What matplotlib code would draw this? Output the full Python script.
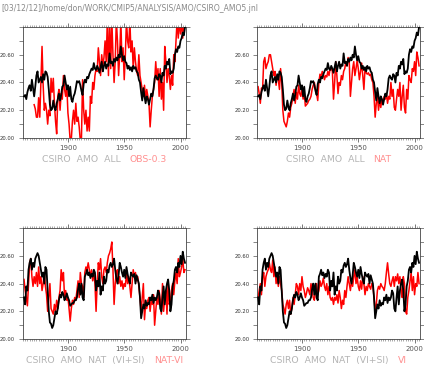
import matplotlib
matplotlib.use("Agg")
import matplotlib.pyplot as plt
import numpy as np
from matplotlib.ticker import MultipleLocator, FuncFormatter

years = np.arange(1861, 2005)

# CSIRO AMO ALL (black, top panels)
amo_all = [20.30, 20.31, 20.28, 20.33, 20.36, 20.38, 20.34, 20.42, 20.36, 20.30,
           20.37, 20.45, 20.48, 20.40, 20.42, 20.44, 20.40, 20.46, 20.42, 20.48,
           20.47, 20.44, 20.35, 20.24, 20.20, 20.21, 20.27, 20.22, 20.20, 20.25,
           20.28, 20.32, 20.27, 20.31, 20.37, 20.38, 20.45, 20.40, 20.35, 20.38,
           20.30, 20.37, 20.28, 20.26, 20.30, 20.32, 20.36, 20.41, 20.40, 20.41,
           20.38, 20.34, 20.31, 20.39, 20.42, 20.40, 20.44, 20.43, 20.46, 20.48,
           20.50, 20.49, 20.54, 20.50, 20.49, 20.52, 20.50, 20.47, 20.51, 20.55,
           20.48, 20.52, 20.55, 20.50, 20.53, 20.52, 20.61, 20.54, 20.55, 20.52,
           20.57, 20.55, 20.58, 20.56, 20.60, 20.58, 20.66, 20.60, 20.56, 20.59,
           20.55, 20.54, 20.50, 20.52, 20.49, 20.51, 20.48, 20.52, 20.50, 20.51,
           20.48, 20.47, 20.42, 20.40, 20.33, 20.27, 20.36, 20.30, 20.25, 20.30,
           20.28, 20.24, 20.28, 20.32, 20.30, 20.35, 20.43, 20.45, 20.43, 20.42,
           20.46, 20.45, 20.40, 20.47, 20.45, 20.52, 20.50, 20.55, 20.53, 20.57,
           20.46, 20.48, 20.47, 20.50, 20.60, 20.64, 20.62, 20.66, 20.65, 20.70,
           20.72, 20.76, 20.74, 20.80]

# OBS-0.3 (red, panel 1), starts 1870
obs = [np.nan] * 9 + [20.24,
       20.21, 20.15, 20.15, 20.29, 20.15, 20.40, 20.66, 20.38, 20.20, 20.25,
       20.20, 20.10, 20.20, 20.16, 20.43, 20.33, 20.43, 20.25, 20.12, 20.03,
       20.30, 20.35, 20.20, 20.32, 20.28, 20.45, 20.35, 20.30, 20.38, 20.18,
       20.10, 19.98, 19.99, 20.12, 20.20, 20.10, 20.25, 20.12, 20.15, 20.08,
       19.98, 19.99, 20.42, 20.20, 20.10, 20.20, 20.05, 20.15, 20.05, 20.30,
       20.25, 20.40, 20.35, 20.45, 20.50, 20.48, 20.65, 20.55, 20.45, 20.60,
       20.52, 20.58, 20.70, 20.55, 20.85, 20.45, 20.85, 20.50, 20.85, 20.60,
       20.40, 20.55, 20.85, 20.70, 20.45, 20.60, 20.85, 20.55, 20.65, 20.42,
       20.60, 20.85, 20.70, 20.65, 20.85, 20.62, 20.70, 20.50, 20.65, 20.55,
       20.48, 20.45, 20.60, 20.45, 20.40, 20.35, 20.30, 20.38, 20.28, 20.35,
       20.30, 20.25, 20.08, 20.20, 20.30, 20.35, 20.40, 20.55, 20.42, 20.50,
       20.30, 20.50, 20.28, 20.40, 20.20, 20.66, 20.55, 20.40, 20.50, 20.45,
       20.35, 20.45, 20.38, 20.60, 20.55, 20.70, 20.85, 20.72, 20.85, 20.75,
       20.85, 20.72, 20.85, 20.82]

# NAT (red, panel 2)
nat = [20.37, 20.32, 20.25, 20.36, 20.35, 20.55, 20.58, 20.50, 20.53, 20.55,
       20.60, 20.60, 20.55, 20.50, 20.45, 20.48, 20.38, 20.45, 20.42, 20.35,
       20.50, 20.40, 20.20, 20.12, 20.10, 20.08, 20.12, 20.18, 20.15, 20.22,
       20.25, 20.30, 20.35, 20.25, 20.33, 20.28, 20.38, 20.32, 20.30, 20.36,
       20.28, 20.33, 20.23, 20.24, 20.25, 20.27, 20.28, 20.30, 20.35, 20.38,
       20.40, 20.35, 20.32, 20.27, 20.40, 20.46, 20.44, 20.48, 20.46, 20.42,
       20.45, 20.44, 20.48, 20.45, 20.50, 20.50, 20.48, 20.28, 20.40, 20.55,
       20.45, 20.32, 20.40, 20.38, 20.45, 20.42, 20.48, 20.50, 20.55, 20.52,
       20.58, 20.55, 20.30, 20.40, 20.50, 20.55, 20.45, 20.50, 20.56, 20.50,
       20.42, 20.48, 20.54, 20.45, 20.35, 20.50, 20.47, 20.46, 20.47, 20.45,
       20.46, 20.42, 20.40, 20.30, 20.15, 20.25, 20.30, 20.20, 20.28, 20.22,
       20.28, 20.25, 20.30, 20.28, 20.32, 20.25, 20.30, 20.28, 20.40, 20.30,
       20.35, 20.22, 20.20, 20.28, 20.35, 20.30, 20.40, 20.20, 20.30, 20.38,
       20.22, 20.18, 20.35, 20.28, 20.45, 20.42, 20.40, 20.50, 20.48, 20.55,
       20.45, 20.62, 20.58, 20.52]

# CSIRO AMO NAT (VI+SI) (black, bottom panels)
nat_visi = [20.30, 20.25, 20.38, 20.35, 20.50, 20.55, 20.58, 20.50, 20.55, 20.52,
            20.58, 20.60, 20.62, 20.60, 20.55, 20.50, 20.45, 20.48, 20.40, 20.52,
            20.50, 20.35, 20.20, 20.12, 20.11, 20.08, 20.10, 20.15, 20.20, 20.18,
            20.22, 20.28, 20.32, 20.30, 20.34, 20.32, 20.28, 20.30, 20.33, 20.30,
            20.28, 20.24, 20.25, 20.26, 20.26, 20.28, 20.28, 20.30, 20.36, 20.40,
            20.32, 20.40, 20.30, 20.28, 20.45, 20.47, 20.50, 20.46, 20.48, 20.44,
            20.47, 20.45, 20.50, 20.48, 20.35, 20.42, 20.38, 20.48, 20.32, 20.38,
            20.35, 20.45, 20.40, 20.42, 20.50, 20.48, 20.53, 20.55, 20.52, 20.54,
            20.58, 20.50, 20.44, 20.40, 20.46, 20.55, 20.52, 20.48, 20.45, 20.50,
            20.44, 20.52, 20.47, 20.43, 20.40, 20.48, 20.46, 20.45, 20.47, 20.40,
            20.46, 20.43, 20.40, 20.30, 20.15, 20.20, 20.25, 20.22, 20.28, 20.24,
            20.26, 20.25, 20.30, 20.28, 20.32, 20.26, 20.30, 20.28, 20.30, 20.35,
            20.33, 20.22, 20.20, 20.30, 20.38, 20.25, 20.35, 20.40, 20.43, 20.35,
            20.20, 20.25, 20.38, 20.42, 20.50, 20.52, 20.48, 20.55, 20.52, 20.60,
            20.54, 20.63, 20.58, 20.55]

# NAT-VI (red, panel 3)
nat_vi = [20.43, 20.35, 20.30, 20.24, 20.40, 20.55, 20.58, 20.45, 20.38, 20.45,
          20.40, 20.48, 20.38, 20.52, 20.40, 20.45, 20.35, 20.40, 20.48, 20.38,
          20.32, 20.20, 20.30, 20.40, 20.22, 20.20, 20.18, 20.25, 20.20, 20.28,
          20.22, 20.30, 20.35, 20.50, 20.42, 20.48, 20.30, 20.35, 20.28, 20.30,
          20.22, 20.13, 20.22, 20.28, 20.25, 20.30, 20.28, 20.35, 20.42, 20.30,
          20.48, 20.40, 20.38, 20.30, 20.48, 20.52, 20.50, 20.55, 20.50, 20.45,
          20.50, 20.42, 20.48, 20.40, 20.20, 20.40, 20.55, 20.50, 20.58, 20.45,
          20.40, 20.50, 20.52, 20.48, 20.55, 20.60, 20.62, 20.65, 20.70, 20.50,
          20.25, 20.40, 20.48, 20.50, 20.40, 20.45, 20.38, 20.42, 20.36, 20.40,
          20.38, 20.48, 20.40, 20.45, 20.38, 20.30, 20.40, 20.50, 20.45, 20.48,
          20.42, 20.45, 20.38, 20.30, 20.20, 20.30, 20.40, 20.14, 20.25, 20.22,
          20.28, 20.30, 20.20, 20.28, 20.25, 20.32, 20.10, 20.20, 20.30, 20.25,
          20.35, 20.28, 20.18, 20.40, 20.20, 20.30, 20.35, 20.18, 20.42, 20.25,
          20.28, 20.35, 20.40, 20.32, 20.42, 20.48, 20.40, 20.58, 20.45, 20.48,
          20.52, 20.58, 20.48, 20.50]

# VI (red, panel 4)
vi = [20.30, 20.35, 20.40, 20.32, 20.45, 20.48, 20.38, 20.45, 20.48, 20.50,
      20.55, 20.50, 20.48, 20.57, 20.45, 20.52, 20.40, 20.45, 20.38, 20.45,
      20.40, 20.35, 20.25, 20.22, 20.18, 20.25, 20.28, 20.22, 20.28, 20.18,
      20.22, 20.30, 20.25, 20.32, 20.40, 20.38, 20.32, 20.40, 20.35, 20.45,
      20.38, 20.35, 20.30, 20.33, 20.37, 20.35, 20.32, 20.40, 20.35, 20.30,
      20.28, 20.35, 20.40, 20.32, 20.35, 20.42, 20.38, 20.40, 20.44, 20.38,
      20.35, 20.40, 20.32, 20.38, 20.30, 20.28, 20.30, 20.25, 20.30, 20.28,
      20.32, 20.26, 20.35, 20.30, 20.22, 20.28, 20.25, 20.35, 20.30, 20.38,
      20.45, 20.40, 20.35, 20.42, 20.38, 20.45, 20.50, 20.40, 20.45, 20.38,
      20.35, 20.42, 20.36, 20.45, 20.40, 20.32, 20.38, 20.35, 20.40, 20.38,
      20.36, 20.40, 20.38, 20.30, 20.20, 20.25, 20.35, 20.38, 20.36, 20.40,
      20.38, 20.37, 20.35, 20.40, 20.48, 20.55, 20.47, 20.40, 20.38, 20.42,
      20.45, 20.38, 20.45, 20.42, 20.47, 20.40, 20.45, 20.35, 20.30, 20.45,
      20.40, 20.20, 20.18, 20.30, 20.35, 20.42, 20.48, 20.35, 20.45, 20.32,
      20.40, 20.38, 20.48, 20.40]

panels = [
    ([0.054, 0.622, 0.385, 0.304], amo_all, obs, "CSIRO  AMO  ALL", "OBS-0.3"),
    ([0.606, 0.622, 0.385, 0.304], amo_all, nat, "CSIRO  AMO  ALL", "NAT"),
    ([0.054, 0.071, 0.385, 0.304], nat_visi, nat_vi, "CSIRO  AMO  NAT  (VI+SI)", "NAT-VI"),
    ([0.606, 0.071, 0.385, 0.304], nat_visi, vi, "CSIRO  AMO  NAT  (VI+SI)", "VI"),
]

def ylab(v, pos):
    if v > 20.7:
        return ""
    return "%.2f" % v

fig = plt.figure(figsize=(4.24, 3.65), dpi=100)
fig.text(0.003, 0.988, "[03/12/12]/home/don/WORK/CMIP5/ANALYSIS/AMO/CSIRO_AMO5.jnl",
         fontsize=5.5, color="#888888", ha="left", va="top")

caps = []
for rect, blk, red, t1, t2 in panels:
    ax = fig.add_axes(rect)
    ax.plot(years, blk, c="black", lw=1.3, zorder=3)
    ax.plot(years, red, c="red", lw=1.1, zorder=2)
    ax.set_xlim(1860, 2005)
    ax.set_ylim(20.0, 20.8)
    ax.xaxis.set_major_locator(MultipleLocator(50))
    ax.xaxis.set_minor_locator(MultipleLocator(2))
    ax.yaxis.set_major_locator(MultipleLocator(0.2))
    ax.yaxis.set_minor_locator(MultipleLocator(0.1))
    ax.yaxis.set_major_formatter(FuncFormatter(ylab))
    ax.tick_params(axis="x", which="major", direction="out", length=3, width=0.5,
                   top=True, labelsize=5.0, pad=2, colors="#444444", labelcolor="#555555")
    ax.tick_params(axis="x", which="minor", direction="out", length=1.2, width=0.4,
                   top=True, colors="#666666")
    ax.tick_params(axis="y", which="both", direction="out", length=3, width=0.5,
                   right=True, labelsize=3.8, pad=2.5, colors="#555555", labelcolor="#333333")
    for s in ax.spines.values():
        s.set_linewidth(0.6)
        s.set_color("#444444")
    # two-colour caption under the panel
    tx = ax.text(0.5, -0.15, t1 + "   ", transform=ax.transAxes, fontsize=6.7,
                 color="#b4b4b4", ha="right", va="top")
    an = ax.annotate(t2, xycoords=tx, xy=(1, 0), va="bottom", ha="left",
                     fontsize=6.7, color="#ff9090")
    caps.append((ax, tx, an))

# recentre the captions
fig.canvas.draw()
r = fig.canvas.get_renderer()
for ax, tx, an in caps:
    w1 = tx.get_window_extent(r).width
    w2 = an.get_window_extent(r).width
    axw = ax.get_window_extent(r).width
    shift = (w1 + w2) / 2.0 - w1
    tx.set_position((0.5 - shift / axw, -0.15))

fig.savefig("out.png", dpi=100)
